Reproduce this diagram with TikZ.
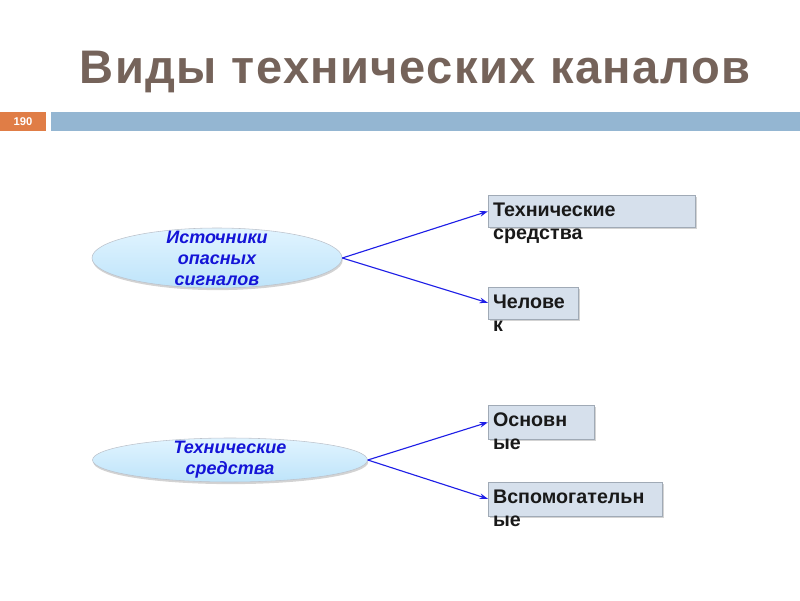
\documentclass[tikz,border=0pt]{standalone}
\usepackage{fontspec}
\setmainfont{Liberation Sans}
\newfontfamily\titlefont[LetterSpace=3]{Liberation Sans}
\usepackage{xcolor}
\usetikzlibrary{shapes.geometric, arrows.meta, positioning, shadows}

\definecolor{titlegray}{RGB}{117,99,90}
\definecolor{barblue}{RGB}{148,182,210}
\definecolor{pagenum}{RGB}{224,125,70}
\definecolor{boxfill}{RGB}{214,224,236}
\definecolor{boxline}{RGB}{160,170,182}
\definecolor{ovaltop}{RGB}{225,244,255}
\definecolor{ovalbot}{RGB}{190,228,250}
\definecolor{ovaltext}{RGB}{20,20,215}
\definecolor{arrowblue}{RGB}{30,30,230}

\begin{document}
\begin{tikzpicture}[
    oval/.style={ellipse, draw=boxline!70, top color=ovaltop, bottom color=ovalbot, inner sep=0pt, drop shadow={opacity=0.35, shadow xshift=0.5pt, shadow yshift=-1.5pt}},
    ovaltxt/.style={align=center, text=ovaltext, font=\fontsize{12.8}{15}\selectfont\bfseries\itshape},
    box/.style={rectangle, draw=boxline, fill=boxfill, inner sep=0pt, minimum height=0.8cm, drop shadow={opacity=0.35, shadow xshift=1pt, shadow yshift=-1.5pt}},
    boxtxt/.style={anchor=north west, align=left, inner xsep=3.4pt, inner ysep=5.6pt, text=black!90, font=\fontsize{14}{16.4}\selectfont\bfseries},
    arrow/.style={-{Stealth[length=6pt, width=4pt]}, line width=0.8pt, draw=arrowblue}
]
\useasboundingbox (0,0) rectangle (20,-15);

% title and slide bar
\node (title) at (10.375,-1.8) {\titlefont\fontsize{33.5}{38}\selectfont\bfseries\color{titlegray}Виды технических каналов};
\fill[pagenum] (0,-2.8) rectangle (1.15,-3.275);
\fill[barblue] (1.275,-2.8) rectangle (20,-3.275);
\node (num) at (0.575,-3.04) {\fontsize{8}{9}\selectfont\bfseries\color{white}190};

% sources
\node (src) [oval, minimum width=6.25cm, minimum height=1.5cm] at (5.425,-6.45) {};
\node [ovaltxt] at (src.center) {Источники\\опасных\\сигналов};
\node (tech) [box, minimum width=5.175cm, anchor=north west] at (12.2,-4.875) {};
\node [boxtxt] at (tech.north west) {Технические\\средства};
\node (human) [box, minimum width=2.25cm, below right=1.475cm and 0cm of tech.south west] {};
\node [boxtxt] at (human.north west) {Челове\\к};

% technical means
\node (means) [oval, minimum width=6.875cm, minimum height=1.1cm] at (5.75,-11.5) {};
\node [ovaltxt] at (means.center) {Технические\\средства};
\node (main) [box, minimum width=2.65cm, minimum height=0.85cm, anchor=north west] at (12.2,-10.125) {};
\node [boxtxt] at (main.north west) {Основн\\ые};
\node (aux) [box, minimum width=4.35cm, minimum height=0.85cm, below right=1.05cm and 0cm of main.south west] {};
\node [boxtxt] at (aux.north west) {Вспомогательн\\ые};

\draw [arrow] (src.east) -- (tech.west);
\draw [arrow] (src.east) -- (human.west);
\draw [arrow] (means.east) -- (main.west);
\draw [arrow] (means.east) -- (aux.west);
\end{tikzpicture}
\end{document}
